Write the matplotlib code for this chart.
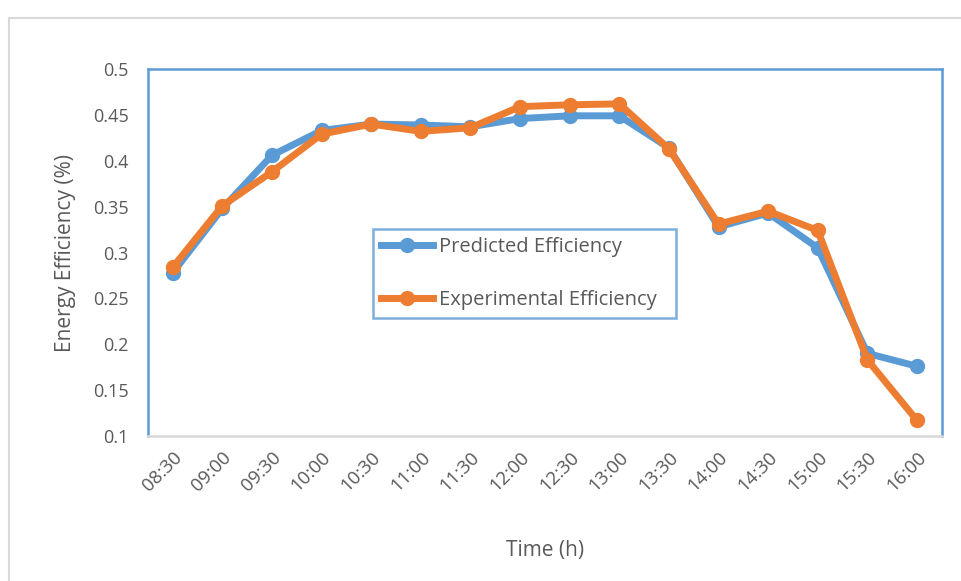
import matplotlib.pyplot as plt
from matplotlib.patches import Rectangle

times = ['08:30', '09:00', '09:30', '10:00', '10:30', '11:00', '11:30', '12:00',
         '12:30', '13:00', '13:30', '14:00', '14:30', '15:00', '15:30', '16:00']
predicted = [0.278, 0.348, 0.406, 0.433, 0.440, 0.439, 0.437, 0.446,
             0.449, 0.449, 0.414, 0.328, 0.343, 0.305, 0.190, 0.176]
experimental = [0.284, 0.351, 0.388, 0.429, 0.440, 0.432, 0.436, 0.459,
                0.461, 0.462, 0.413, 0.331, 0.345, 0.324, 0.183, 0.117]

blue = '#5B9BD5'
orange = '#ED7D31'
grey = '#595959'

plt.rcParams['font.family'] = ['Open Sans', 'DejaVu Sans']

fig = plt.figure(figsize=(9.61, 5.81), dpi=100)
# outer chart frame
fig.patches.append(Rectangle((9 / 961, -0.1), 1.1, 1 - 18 / 581 + 0.1,
                             transform=fig.transFigure, fill=False,
                             edgecolor='#D9D9D9', lw=1.5))
ax = fig.add_axes([0.154, 0.2496, 0.826, 0.6316])

x = range(len(times))
ax.plot(x, predicted, '-o', color=blue, lw=5, ms=10, label='Predicted Efficiency')
ax.plot(x, experimental, '-o', color=orange, lw=5, ms=10, label='Experimental Efficiency')

ax.set_xlim(-0.5, len(times) - 0.5)
ax.set_ylim(0.1, 0.5)
ax.set_yticks([0.1, 0.15, 0.2, 0.25, 0.3, 0.35, 0.4, 0.45, 0.5])
ax.set_yticklabels(['0.1', '0.15', '0.2', '0.25', '0.3', '0.35', '0.4', '0.45', '0.5'])
ax.set_xticks(list(x))
ax.set_xticklabels(times, rotation=45, ha='right', rotation_mode='anchor')
ax.tick_params(length=0, labelcolor=grey)
ax.tick_params(axis='y', pad=14, labelsize=13)
ax.tick_params(axis='x', pad=9, labelsize=13.5)

for s in ['left', 'top', 'right']:
    ax.spines[s].set_color(blue)
    ax.spines[s].set_linewidth(1.8)
ax.spines['bottom'].set_color('#D9D9D9')
ax.spines['bottom'].set_linewidth(1.8)

ax.set_xlabel('Time (h)', fontsize=15, color=grey, labelpad=32)
ax.set_ylabel('Energy Efficiency (%)', fontsize=15, color=grey, labelpad=12)

leg = ax.legend(loc='center', bbox_to_anchor=(0.283, 0.294, 0.382, 0.297),
                mode='expand', fontsize=14.5, frameon=True, fancybox=False,
                handlelength=2.6, labelspacing=1.6, handletextpad=0.3,
                borderaxespad=0)
leg.get_frame().set_edgecolor(blue)
leg.get_frame().set_linewidth(1.8)
for t in leg.get_texts():
    t.set_color(grey)

fig.savefig('out.png', dpi=100)
